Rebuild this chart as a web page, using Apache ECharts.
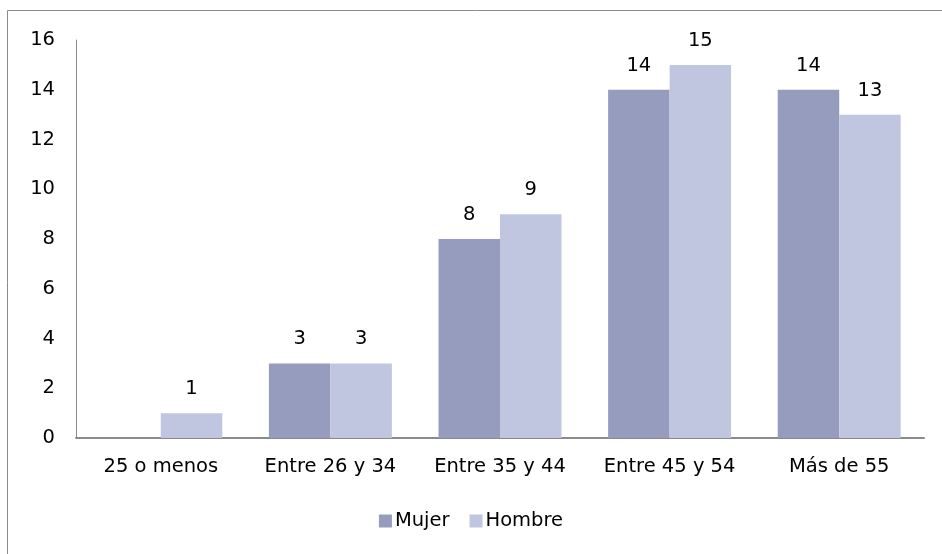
<!DOCTYPE html>
<html>
<head>
<meta charset="utf-8">
<script src="https://cdn.jsdelivr.net/npm/echarts@6/dist/echarts.min.js"></script>
<style>
  html, body { margin: 0; padding: 0; background: #ffffff; }
  #chart { width: 942px; height: 554px; }
</style>
</head>
<body>
<div id="chart"></div>
<script>
// Age brackets and counts per gender
const categories = ['25 o menos', 'Entre 26 y 34', 'Entre 35 y 44', 'Entre 45 y 54', 'Más de 55'];
const mujer = [0, 3, 8, 14, 14];
const hombre = [1, 3, 9, 15, 13];
const yTicks = { min: 0, max: 16, interval: 2 };

const FONT = 'DejaVu Sans';
const TEXT = '#000000';
const SIZE = 19.5;

const chart = echarts.init(document.getElementById('chart'), null, { renderer: 'canvas' });

const labelCfg = {
  show: true,
  position: 'top',
  distance: 14,
  color: TEXT,
  fontFamily: FONT,
  fontSize: SIZE,
  formatter: p => (p.value === 0 ? '' : String(p.value))
};

chart.setOption({
  animation: false,
  backgroundColor: '#ffffff',
  graphic: [{
    type: 'rect',
    silent: true,
    shape: { x: 7.5, y: 10.5, width: 1200, height: 1200 },
    style: { fill: 'none', stroke: '#8a8a8a', lineWidth: 1 }
  }],
  legend: {
    bottom: 18,
    left: 'center',
    itemWidth: 13,
    itemHeight: 13,
    itemGap: 20,
    icon: 'rect',
    textStyle: { color: TEXT, fontFamily: FONT, fontSize: SIZE, padding: [0, 0, 0, -2] },
    data: ['Mujer', 'Hombre']
  },
  grid: { left: 76, right: 18, top: 40, bottom: 116 },
  xAxis: {
    type: 'category',
    data: categories,
    axisLine: { show: true, lineStyle: { color: '#8a8a8a', width: 2 } },
    axisTick: { show: false },
    axisLabel: { color: TEXT, fontFamily: FONT, fontSize: SIZE, margin: 19, interval: 0 }
  },
  yAxis: {
    type: 'value',
    min: yTicks.min,
    max: yTicks.max,
    interval: yTicks.interval,
    axisLine: { show: true, lineStyle: { color: '#8a8a8a', width: 1 } },
    axisTick: { show: false },
    splitLine: { show: false },
    axisLabel: { color: TEXT, fontFamily: FONT, fontSize: SIZE, margin: 21 }
  },
  series: [
    {
      name: 'Mujer',
      type: 'bar',
      data: mujer,
      barGap: '0%',
      barCategoryGap: '27.5%',
      itemStyle: { color: '#959cbd' },
      label: labelCfg
    },
    {
      name: 'Hombre',
      type: 'bar',
      data: hombre,
      barGap: '0%',
      barCategoryGap: '27.5%',
      itemStyle: { color: '#c0c6e0' },
      label: labelCfg
    }
  ]
});
</script>
</body>
</html>
